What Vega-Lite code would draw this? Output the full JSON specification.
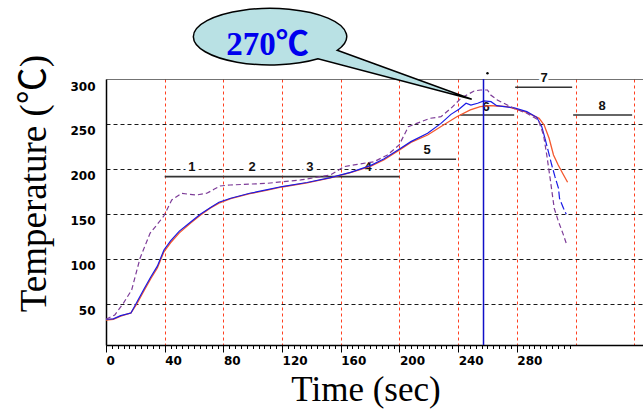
{
  "$schema": "https://vega.github.io/schema/vega-lite/v6.json",
  "width": 537,
  "height": 266,
  "autosize": {"type": "none"},
  "padding": {"left": 106, "top": 79, "right": 0, "bottom": 64},
  "background": "#ffffff",
  "config": {"view": {"stroke": null}},
  "datasets": {
    "curves": [
      {"s": "orange", "time": 0, "temp": 32},
      {"s": "orange", "time": 5, "temp": 33},
      {"s": "orange", "time": 10, "temp": 36.5},
      {"s": "orange", "time": 17, "temp": 40},
      {"s": "orange", "time": 21, "temp": 50},
      {"s": "orange", "time": 26, "temp": 65},
      {"s": "orange", "time": 30.5, "temp": 78},
      {"s": "orange", "time": 35, "temp": 90},
      {"s": "orange", "time": 39.5, "temp": 108},
      {"s": "orange", "time": 44, "temp": 118},
      {"s": "orange", "time": 50, "temp": 129},
      {"s": "orange", "time": 57.7, "temp": 140},
      {"s": "orange", "time": 64.5, "temp": 149},
      {"s": "orange", "time": 71, "temp": 156.5},
      {"s": "orange", "time": 77, "temp": 162},
      {"s": "orange", "time": 85, "temp": 167},
      {"s": "orange", "time": 98, "temp": 172.5},
      {"s": "orange", "time": 110, "temp": 176.5},
      {"s": "orange", "time": 120, "temp": 180},
      {"s": "orange", "time": 137, "temp": 184.5},
      {"s": "orange", "time": 153, "temp": 190},
      {"s": "orange", "time": 166.6, "temp": 196},
      {"s": "orange", "time": 180.2, "temp": 203},
      {"s": "orange", "time": 189.3, "temp": 210},
      {"s": "orange", "time": 199.8, "temp": 221},
      {"s": "orange", "time": 207.8, "temp": 229.6},
      {"s": "orange", "time": 219.2, "temp": 237.8},
      {"s": "orange", "time": 230, "temp": 248.9},
      {"s": "orange", "time": 239.1, "temp": 258.1},
      {"s": "orange", "time": 248.3, "temp": 265.6},
      {"s": "orange", "time": 255.1, "temp": 269.2},
      {"s": "orange", "time": 261.9, "temp": 270.4},
      {"s": "orange", "time": 266.3, "temp": 270},
      {"s": "orange", "time": 273.5, "temp": 269.2},
      {"s": "orange", "time": 277.7, "temp": 267.4},
      {"s": "orange", "time": 286.8, "temp": 263},
      {"s": "orange", "time": 295.2, "temp": 256.3},
      {"s": "orange", "time": 298.6, "temp": 248.9},
      {"s": "orange", "time": 302, "temp": 234.1},
      {"s": "orange", "time": 305, "temp": 215.6},
      {"s": "orange", "time": 308.2, "temp": 204.4},
      {"s": "orange", "time": 311.2, "temp": 195.2},
      {"s": "orange", "time": 314.6, "temp": 185.2},
      {"s": "blue", "time": 0, "temp": 33},
      {"s": "blue", "time": 5, "temp": 33.5},
      {"s": "blue", "time": 10, "temp": 37},
      {"s": "blue", "time": 17, "temp": 40},
      {"s": "blue", "time": 21, "temp": 52},
      {"s": "blue", "time": 26, "temp": 67},
      {"s": "blue", "time": 30.5, "temp": 80},
      {"s": "blue", "time": 35, "temp": 92},
      {"s": "blue", "time": 39.5, "temp": 110},
      {"s": "blue", "time": 44, "temp": 120},
      {"s": "blue", "time": 50, "temp": 131},
      {"s": "blue", "time": 57.7, "temp": 141},
      {"s": "blue", "time": 64.5, "temp": 150},
      {"s": "blue", "time": 71, "temp": 157},
      {"s": "blue", "time": 77, "temp": 163},
      {"s": "blue", "time": 85, "temp": 167.5},
      {"s": "blue", "time": 98, "temp": 173},
      {"s": "blue", "time": 110, "temp": 177},
      {"s": "blue", "time": 120, "temp": 180.5},
      {"s": "blue", "time": 137, "temp": 185},
      {"s": "blue", "time": 153, "temp": 190.4},
      {"s": "blue", "time": 166.6, "temp": 196.3},
      {"s": "blue", "time": 180.2, "temp": 203.7},
      {"s": "blue", "time": 189.3, "temp": 211},
      {"s": "blue", "time": 199.8, "temp": 222},
      {"s": "blue", "time": 207.8, "temp": 230.4},
      {"s": "blue", "time": 219.2, "temp": 239.6},
      {"s": "blue", "time": 228.3, "temp": 250.7},
      {"s": "blue", "time": 235.1, "temp": 260.7},
      {"s": "blue", "time": 240.8, "temp": 266.7},
      {"s": "blue", "time": 245.4, "temp": 273},
      {"s": "blue", "time": 248.7, "temp": 271.1},
      {"s": "blue", "time": 253.3, "temp": 273},
      {"s": "blue", "time": 257.5, "temp": 275.6},
      {"s": "blue", "time": 262.4, "temp": 274.8},
      {"s": "blue", "time": 266.3, "temp": 270.4},
      {"s": "blue", "time": 277.7, "temp": 268.1},
      {"s": "blue", "time": 286.8, "temp": 263.7},
      {"s": "blue", "time": 293.6, "temp": 257.4},
      {"s": "blue", "time": 297, "temp": 247},
      {"s": "blue", "time": 299.2, "temp": 234.1},
      {"s": "bluetail", "time": 299.2, "temp": 234.1},
      {"s": "bluetail", "time": 301.5, "temp": 219.2},
      {"s": "bluetail", "time": 303.8, "temp": 204.4},
      {"s": "bluetail", "time": 306, "temp": 191.5},
      {"s": "bluetail", "time": 308.4, "temp": 178.6},
      {"s": "bluetail", "time": 309.1, "temp": 167.4},
      {"s": "bluetail", "time": 311.8, "temp": 156.3},
      {"s": "bluetail", "time": 313.7, "temp": 149.7},
      {"s": "purple", "time": 0, "temp": 33},
      {"s": "purple", "time": 6, "temp": 37.8},
      {"s": "purple", "time": 11.8, "temp": 50.7},
      {"s": "purple", "time": 17.5, "temp": 65.6},
      {"s": "purple", "time": 23.2, "temp": 100.8},
      {"s": "purple", "time": 30, "temp": 128.5},
      {"s": "purple", "time": 35.7, "temp": 140},
      {"s": "purple", "time": 39.5, "temp": 148},
      {"s": "purple", "time": 44.8, "temp": 165.6},
      {"s": "purple", "time": 51.6, "temp": 173},
      {"s": "purple", "time": 56, "temp": 172},
      {"s": "purple", "time": 61.8, "temp": 171.1},
      {"s": "purple", "time": 68.7, "temp": 173},
      {"s": "purple", "time": 73.6, "temp": 177.4},
      {"s": "purple", "time": 77.7, "temp": 181.1},
      {"s": "purple", "time": 84.5, "temp": 182.2},
      {"s": "purple", "time": 110, "temp": 184.1},
      {"s": "purple", "time": 132.7, "temp": 187.8},
      {"s": "purple", "time": 153, "temp": 193.3},
      {"s": "purple", "time": 162.2, "temp": 202.6},
      {"s": "purple", "time": 171.3, "temp": 205.2},
      {"s": "purple", "time": 182.7, "temp": 208.1},
      {"s": "purple", "time": 191.8, "temp": 215.6},
      {"s": "purple", "time": 199.8, "temp": 226.7},
      {"s": "purple", "time": 206.1, "temp": 247},
      {"s": "purple", "time": 211.8, "temp": 250.7},
      {"s": "purple", "time": 220.9, "temp": 256.3},
      {"s": "purple", "time": 228.3, "temp": 258.1},
      {"s": "purple", "time": 235.1, "temp": 267.4},
      {"s": "purple", "time": 241.9, "temp": 278.5},
      {"s": "purple", "time": 250.9, "temp": 286.7},
      {"s": "purple", "time": 255.3, "temp": 287.8},
      {"s": "purple", "time": 260, "temp": 287.8},
      {"s": "purple", "time": 262.2, "temp": 282.2},
      {"s": "purple", "time": 266.7, "temp": 276.7},
      {"s": "purple", "time": 269, "temp": 274.8},
      {"s": "purple", "time": 273.5, "temp": 271.1},
      {"s": "purple", "time": 278, "temp": 267.4},
      {"s": "purple", "time": 286.8, "temp": 261.9},
      {"s": "purple", "time": 294.7, "temp": 254.4},
      {"s": "purple", "time": 298.2, "temp": 237.8},
      {"s": "purple", "time": 300.4, "temp": 215.6},
      {"s": "purple", "time": 302.7, "temp": 189.6},
      {"s": "purple", "time": 305.5, "temp": 156.3},
      {"s": "purple", "time": 308.4, "temp": 141.5},
      {"s": "purple", "time": 311.4, "temp": 128.5},
      {"s": "purple", "time": 313.7, "temp": 117.4}
    ],
    "zones": [
      {"lab": "1", "time": 58.6, "temp": 201.7},
      {"lab": "2", "time": 99.5, "temp": 201.7},
      {"lab": "3", "time": 139, "temp": 201.7},
      {"lab": "4", "time": 178.6, "temp": 201.7},
      {"lab": "5", "time": 218.9, "temp": 221},
      {"lab": "6", "time": 259, "temp": 269.2},
      {"lab": "7", "time": 298.6, "temp": 301.1},
      {"lab": "8", "time": 338.2, "temp": 270}
    ],
    "segs": [
      {"start": 40, "end": 200, "temp": 191.5},
      {"start": 199.5, "end": 238.6, "temp": 210.8},
      {"start": 241.4, "end": 278.2, "temp": 260},
      {"start": 278.9, "end": 317.7, "temp": 290.8},
      {"start": 318.4, "end": 358.6, "temp": 260}
    ],
    "marker": [{"time": 257.3, "top": 300, "bottom": 4.4}],
    "callout": [{"time": 111.8, "temp": 347, "label": "270℃", "ltime": 110.1, "ltemp": 326.7}],
    "dot": [{"time": 260, "temp": 306.3}]
  },
  "resolve": {
    "scale": {"x": "shared", "y": "shared"},
    "axis": {"x": "independent", "y": "independent"}
  },
  "layer": [
    {
      "data": {"name": "zones"},
      "mark": {"type": "text", "font": "Liberation Sans", "fontWeight": "bold", "fontSize": 13, "align": "center", "baseline": "middle", "fill": "#ffffff", "stroke": "#ffffff", "strokeWidth": 7},
      "encoding": {
        "x": {"field": "time", "type": "quantitative", "scale": {"domain": [0, 366], "nice": false, "zero": false}, "axis": null},
        "y": {"field": "temp", "type": "quantitative", "scale": {"domain": [4.4, 300], "nice": false, "zero": false}, "axis": null},
        "text": {"field": "lab"}
      }
    },
    {
      "data": {"name": "zones"},
      "mark": {"type": "text", "font": "Liberation Sans", "fontWeight": "bold", "fontSize": 13, "align": "center", "baseline": "middle", "fill": "#111111"},
      "encoding": {
        "x": {"field": "time", "type": "quantitative", "axis": null},
        "y": {"field": "temp", "type": "quantitative", "axis": null},
        "text": {"field": "lab"}
      }
    },
    {
      "data": {"name": "segs"},
      "mark": {"type": "rule", "color": "#333333", "strokeWidth": 1.6},
      "encoding": {
        "x": {"field": "start", "type": "quantitative", "axis": null},
        "x2": {"field": "end"},
        "y": {"field": "temp", "type": "quantitative", "axis": null}
      }
    },
    {
      "data": {"name": "curves"},
      "transform": [{"filter": "datum.s === 'orange'"}],
      "mark": {"type": "line", "color": "#f4582e", "strokeWidth": 1.3},
      "encoding": {
        "x": {"field": "time", "type": "quantitative", "axis": {
          "orient": "bottom",
          "values": [0, 40, 80, 120, 160, 200, 240, 280],
          "grid": false, "domainColor": "#000000", "domainWidth": 1.5,
          "tickColor": "#000000", "tickSize": 7, "tickWidth": 1,
          "labelAlign": "left", "labelBaseline": "top", "labelPadding": 3,
          "labelFont": "DejaVu Sans", "labelFontWeight": "bold", "labelFontSize": 12, "labelColor": "#000000",
          "labelFlush": false, "labelOverlap": false,
          "title": "Time (sec)", "titleFont": "Liberation Serif", "titleFontSize": 35, "titleFontWeight": "normal",
          "titleColor": "#000000", "titleX": 259.5, "titleY": 55, "titleBaseline": "alphabetic", "titleAlign": "center"
        }},
        "y": {"field": "temp", "type": "quantitative", "axis": {
          "orient": "left",
          "values": [50, 100, 150, 200, 250, 300],
          "grid": true,
          "gridColor": {"condition": {"test": "datum.value === 300", "value": "#444444"}, "value": "#1a1a1a"},
          "gridDash": {"condition": {"test": "datum.value === 300", "value": [1, 0]}, "value": [4, 3]},
          "gridWidth": 1,
          "ticks": false, "domainColor": "#000000", "domainWidth": 1.5,
          "labelPadding": 11, "labelOffset": 7,
          "labelFont": "DejaVu Sans", "labelFontWeight": "bold", "labelFontSize": 12, "labelColor": "#000000",
          "labelOverlap": false,
          "title": "Temperature (℃)", "titleFont": "Liberation Serif, Noto Sans CJK SC", "titleFontSize": 37, "titleFontWeight": "normal",
          "titleColor": "#000000", "titleX": -61, "titleY": 104, "titleAngle": -90, "titleBaseline": "alphabetic", "titleAlign": "center"
        }}
      }
    },
    {
      "data": {"name": "curves"},
      "transform": [{"filter": "datum.s === 'blue'"}],
      "mark": {"type": "line", "color": "#1a1ae6", "strokeWidth": 1.2},
      "encoding": {
        "x": {"field": "time", "type": "quantitative", "axis": {
          "orient": "bottom",
          "values": [0, 4, 8, 12, 16, 20, 24, 28, 32, 36, 40, 44, 48, 52, 56, 60, 64, 68, 72, 76, 80, 84, 88, 92, 96, 100, 104, 108, 112, 116, 120, 124, 128, 132, 136, 140, 144, 148, 152, 156, 160, 164, 168, 172, 176, 180, 184, 188, 192, 196, 200, 204, 208, 212, 216, 220, 224, 228, 232, 236, 240, 244, 248, 252, 256, 260, 264, 268, 272, 276, 280, 284, 288, 292, 296, 300, 304, 308, 312, 316],
          "labels": false, "domain": false, "grid": false, "ticks": true,
          "tickSize": 3.5, "tickColor": "#000000", "tickWidth": 1, "title": null
        }},
        "y": {"field": "temp", "type": "quantitative", "axis": null}
      }
    },
    {
      "data": {"name": "curves"},
      "transform": [{"filter": "datum.s === 'bluetail'"}],
      "mark": {"type": "line", "color": "#1a1ae6", "strokeWidth": 1.2, "strokeDash": [8, 3]},
      "encoding": {
        "x": {"field": "time", "type": "quantitative", "axis": null},
        "y": {"field": "temp", "type": "quantitative", "axis": null}
      }
    },
    {
      "data": {"name": "curves"},
      "transform": [{"filter": "datum.s === 'purple'"}],
      "mark": {"type": "line", "color": "#7d3c98", "strokeWidth": 1.2, "strokeDash": [5, 3]},
      "encoding": {
        "x": {"field": "time", "type": "quantitative", "axis": {
          "orient": "bottom",
          "values": [40, 80, 120, 160, 200, 240, 280, 320, 360],
          "grid": true, "gridColor": "#ff4020", "gridDash": [3, 3], "gridWidth": 1,
          "labels": false, "ticks": false, "domain": false, "title": null
        }},
        "y": {"field": "temp", "type": "quantitative", "axis": null}
      }
    },
    {
      "data": {"name": "marker"},
      "mark": {"type": "rule", "color": "#1010c8", "strokeWidth": 1.5},
      "encoding": {
        "x": {"field": "time", "type": "quantitative", "axis": null},
        "y": {"field": "top", "type": "quantitative", "axis": null},
        "y2": {"field": "bottom"}
      }
    },
    {
      "data": {"name": "callout"},
      "mark": {"type": "point", "shape": "M -0.767 0 A 0.767 0.283 0 1 1 0.672 0.136 L 2.017 0.626 L 0.48 0.22 A 0.767 0.283 0 0 1 -0.767 0 Z", "size": 40000, "filled": true, "fill": "#b9e1e4", "stroke": "#000000", "strokeWidth": 1.5, "opacity": 1, "fillOpacity": 1, "strokeOpacity": 1},
      "encoding": {
        "x": {"field": "time", "type": "quantitative", "axis": null},
        "y": {"field": "temp", "type": "quantitative", "axis": null}
      }
    },
    {
      "data": {"name": "callout"},
      "mark": {"type": "text", "font": "Liberation Serif, Noto Sans CJK SC", "fontWeight": "bold", "fontSize": 33, "align": "center", "baseline": "alphabetic", "fill": "#0000ee"},
      "encoding": {
        "x": {"field": "ltime", "type": "quantitative", "axis": null},
        "y": {"field": "ltemp", "type": "quantitative", "axis": null},
        "text": {"field": "label"}
      }
    },
    {
      "data": {"name": "dot"},
      "mark": {"type": "point", "filled": true, "color": "#000000", "size": 6, "opacity": 1},
      "encoding": {
        "x": {"field": "time", "type": "quantitative", "axis": null},
        "y": {"field": "temp", "type": "quantitative", "axis": null}
      }
    }
  ]
}
